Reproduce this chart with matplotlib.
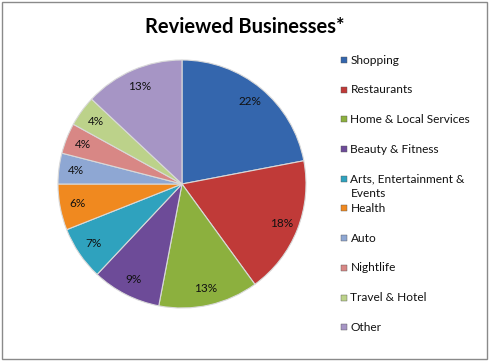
import matplotlib
matplotlib.use("Agg")
import matplotlib.pyplot as plt
from matplotlib.patches import Rectangle

categories = ["Shopping", "Restaurants", "Home & Local Services", "Beauty & Fitness",
              "Arts, Entertainment &\nEvents", "Health", "Auto", "Nightlife",
              "Travel & Hotel", "Other"]
shares = [22, 18, 13, 9, 7, 6, 4, 4, 4, 13]
colors = ["#3466ad", "#c03a38", "#8cb03e", "#6d4b98", "#2fa2be",
          "#f0891f", "#8ea7d3", "#d88785", "#bcd28a", "#a695c5"]
title = "Reviewed Businesses*"

plt.rcParams["font.family"] = ["Lato", "DejaVu Sans"]

W, H = 491, 362
fig = plt.figure(figsize=(W / 100, H / 100), dpi=100)
fig.patch.set_facecolor("white")

# outer frame
fig.patches.append(Rectangle((1.5 / W, 3.0 / H), 485 / W, 357.5 / H,
                             transform=fig.transFigure, fill=False,
                             edgecolor="#8a8a8a", linewidth=1.0))

fig.text(245 / W, 1 - 27 / H, title, ha="center", va="center",
         fontsize=14.5, fontweight="bold", color="black")

# pie
cx, cy, r = 182, 184, 124
ax = fig.add_axes([(cx - r) / W, (H - cy - r) / H, 2 * r / W, 2 * r / H])
wedges, texts, autotexts = ax.pie(
    shares, colors=colors, startangle=90, counterclock=False,
    autopct=lambda p: f"{p:.0f}%", pctdistance=0.86,
    wedgeprops=dict(edgecolor="#d9d9d9", linewidth=0.8),
    textprops=dict(fontsize=8.5, color="#111111"))
ax.set_xlim(-1, 1)
ax.set_ylim(-1, 1)
ax.set_aspect("auto")
ax.axis("off")

# legend with fixed slots
top, slot = 60 - 14.85, 29.7
n = len(categories)
lax = fig.add_axes([338 / W, (H - (top + slot * n)) / H, 150 / W, slot * n / H])
lax.set_xlim(0, 150)
lax.set_ylim(slot * n, 0)
lax.axis("off")
line_h = 15
for i, (lab, c) in enumerate(zip(categories, colors)):
    yc = slot * (i + 0.5)
    lax.add_patch(Rectangle((3, yc - 3), 6, 6, facecolor=c,
                            edgecolor="#555555", linewidth=0.3))
    for j, part in enumerate(lab.split("\n")):
        lax.text(12.5, yc + j * line_h, part, va="center", ha="left",
                 fontsize=8.6, color="#111111")

fig.savefig("out.png", dpi=100)
